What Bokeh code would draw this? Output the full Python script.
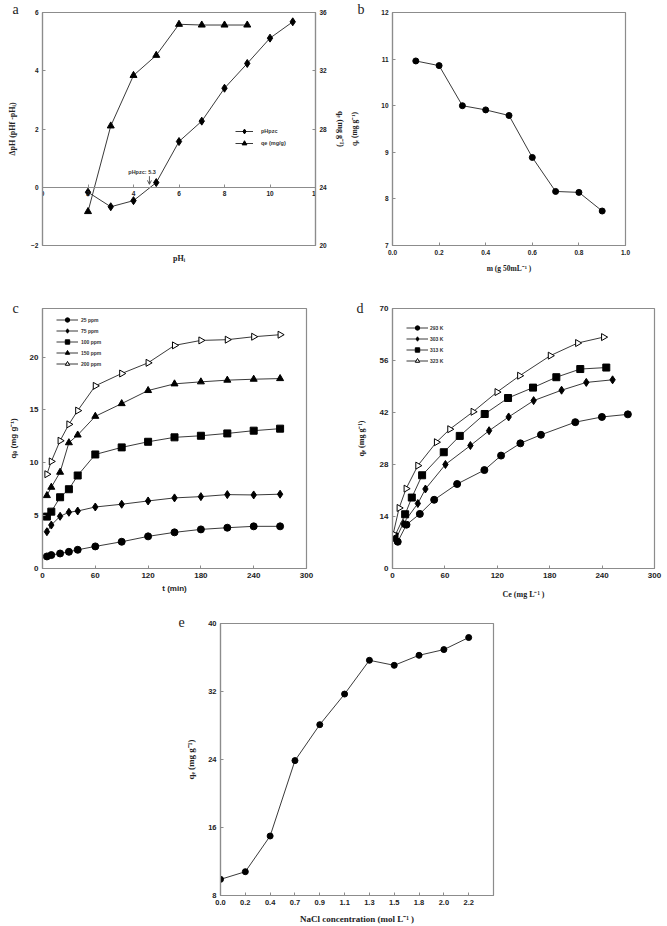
import numpy as np
from bokeh.plotting import figure
from bokeh.models import (Range1d, LinearAxis, FixedTicker, Label, Arrow, OpenHead,
                          Legend, LegendItem, Spacer, NumeralTickFormatter)
from bokeh.layouts import column, row
from bokeh.embed import file_html
from bokeh.resources import INLINE

# ---------------- data ----------------
# (a) pH effect / point of zero charge
ph_i = [2, 3, 4, 5, 6, 7, 8, 9, 10, 11]
delta_ph = [-0.17, -0.67, -0.46, 0.16, 1.57, 2.27, 3.40, 4.25, 5.12, 5.68]
ph_qe_x = [2, 3, 4, 5, 6, 7, 8, 9]
ph_qe = [22.33, 28.21, 31.68, 33.06, 35.19, 35.14, 35.14, 35.14]
a_x_ticks = [0, 2, 4, 6, 8, 10, 12]
a_y_ticks = [-2, 0, 2, 4, 6]
a_right_ticks = [20, 24, 28, 32, 36]

# (b) adsorbent dose
dose = [0.1, 0.2, 0.3, 0.4, 0.5, 0.6, 0.7, 0.8, 0.9]
qe_dose = [10.96, 10.86, 10.0, 9.91, 9.79, 8.89, 8.16, 8.14, 7.74]

# (c) contact time
t_min = [5, 10, 20, 30, 40, 60, 90, 120, 150, 180, 210, 240, 270]
q_25 = [1.14, 1.27, 1.42, 1.58, 1.77, 2.09, 2.53, 3.04, 3.42, 3.70, 3.86, 3.99, 3.99]
q_75 = [3.48, 4.11, 4.94, 5.32, 5.44, 5.82, 6.08, 6.39, 6.68, 6.80, 6.99, 6.96, 7.03]
q_100 = [4.91, 5.38, 6.74, 7.50, 8.80, 10.79, 11.46, 11.99, 12.41, 12.56, 12.78, 13.04, 13.23]
q_150 = [6.90, 7.69, 9.11, 11.90, 12.63, 14.40, 15.60, 16.84, 17.47, 17.66, 17.82, 17.91, 17.97]
q_200 = [8.92, 10.13, 12.09, 13.64, 14.94, 17.28, 18.45, 19.46, 21.11, 21.58, 21.65, 21.93, 22.12]
c_labels = ["25 ppm", "75 ppm", "100 ppm", "150 ppm", "200 ppm"]

# (d) isotherms
ce_293 = [6, 16, 31.3, 47.7, 74, 105.2, 124.3, 146.4, 170, 209.3, 239.8, 269.5]
qe_293 = [7.2, 11.8, 14.7, 18.5, 22.75, 26.5, 30.4, 33.7, 36.0, 39.4, 40.8, 41.5]
ce_303 = [3.4, 12.2, 29, 37.7, 60.6, 89.2, 110.6, 133, 161.6, 193.6, 221.9, 252]
qe_303 = [7.7, 12.1, 17.5, 21.4, 28.0, 33.1, 37.1, 40.8, 45.2, 48.0, 50.1, 50.8]
ce_313 = [2.3, 14.5, 22.1, 33.9, 58.7, 77, 105.6, 132.3, 160.9, 187.6, 215, 244.8]
qe_313 = [8.6, 14.6, 19.1, 25.1, 31.3, 35.7, 41.6, 45.9, 48.7, 51.5, 53.7, 54.1]
ce_323 = [0.8, 7.6, 15.6, 29, 50.3, 65.6, 92.3, 119.7, 145.6, 180.7, 212, 241.7]
qe_323 = [9.3, 16.3, 21.5, 27.7, 34.0, 37.5, 42.2, 47.5, 51.9, 57.3, 60.7, 62.3]
d_labels = ["293 K", "303 K", "313 K", "323 K"]

# (e) ionic strength
nacl = [0.0, 0.22, 0.44, 0.66, 0.88, 1.10, 1.32, 1.54, 1.76, 1.98, 2.20]
qe_nacl = [9.9, 10.8, 15.0, 23.87, 28.1, 31.7, 35.67, 35.08, 36.26, 36.93, 38.35]
e_x_ticks = [0.0, 0.22, 0.44, 0.66, 0.88, 1.10, 1.32, 1.54, 1.76, 1.98, 2.20]
e_x_labels = ["0.0", "0.2", "0.4", "0.7", "0.9", "1.1", "1.3", "1.5", "1.8", "2.0", "2.2"]

# ---------------- style ----------------
SANS = "Liberation Sans"
SERIF = "Liberation Serif"
FRAME = "#8c8c8c"
LINE = "#3a3a3a"


def make_fig(w, h, xr, yr, left, right, top, bottom):
    p = figure(width=w, height=h, x_range=Range1d(*xr), y_range=Range1d(*yr),
               output_backend="svg", toolbar_location=None,
               min_border_left=left, min_border_right=right,
               min_border_top=top, min_border_bottom=bottom)
    p.outline_line_color = FRAME
    p.outline_line_width = 1.2
    p.grid.visible = False
    return p


def style_axes(p, tick_size, label_size, label_font=SERIF):
    for ax in p.axis:
        ax.axis_line_color = FRAME
        ax.axis_line_width = 1.2
        ax.major_tick_line_color = FRAME
        ax.minor_tick_line_color = None
        ax.major_tick_in = 3
        ax.major_tick_out = 0
        ax.major_label_text_font = SANS
        ax.major_label_text_font_style = "bold"
        ax.major_label_text_font_size = tick_size
        ax.major_label_text_color = "#222222"
        ax.major_label_standoff = 4
        ax.axis_label_text_font = label_font
        ax.axis_label_text_font_style = "bold"
        ax.axis_label_text_font_size = label_size
        ax.axis_label_text_color = "#222222"
        ax.axis_label_standoff = 6


def letter(p, txt, offset, standoff):
    p.title.text = txt
    p.title.align = "left"
    p.title.offset = offset
    p.title.standoff = standoff
    p.title.text_font = SERIF
    p.title.text_font_style = "normal"
    p.title.text_font_size = "14px"
    p.title.text_color = "#222222"


def make_legend(items, loc, gw, gh, standoff, size="5px"):
    return Legend(items=items, location=loc, glyph_width=gw, glyph_height=gh,
                  label_height=gh, label_standoff=standoff, spacing=0, padding=0,
                  margin=0, border_line_color=None, background_fill_alpha=0,
                  label_text_font=SANS, label_text_font_style="bold",
                  label_text_font_size=size, label_text_color="#333333")


# ---------------- panel a ----------------
pa = make_fig(347, 280, (0, 12), (-2, 6), 42, 25, 12, 35)
pa.extra_y_ranges = {"qe": Range1d(20, 36)}
pa.xaxis.ticker = FixedTicker(ticks=a_x_ticks)
pa.xaxis.fixed_location = 0
pa.yaxis.ticker = FixedTicker(ticks=a_y_ticks)
pa.yaxis.axis_label = "ΔpH (pHf -pHᵢ)"
right_ax = LinearAxis(y_range_name="qe", ticker=FixedTicker(ticks=a_right_ticks),
                      axis_label="qₑ (mg g⁻¹)")
pa.add_layout(right_ax, "right")
lab_ax = LinearAxis(axis_label="pHᵢ", ticker=FixedTicker(ticks=[]))
pa.add_layout(lab_ax, "below")
style_axes(pa, "6.5px", "8px")
pa.yaxis[0].axis_label_standoff = 11
lab_ax.axis_line_color = None
lab_ax.major_tick_line_color = None
lab_ax.major_label_text_font_size = "0px"
lab_ax.axis_label_standoff = 8

la1 = pa.line(ph_i, delta_ph, line_color=LINE, line_width=1)
sa1 = pa.scatter(ph_i, delta_ph, marker="diamond", size=8, color="black")
la2 = pa.line(ph_qe_x, ph_qe, y_range_name="qe", line_color=LINE, line_width=1)
sa2 = pa.scatter(ph_qe_x, ph_qe, y_range_name="qe", marker="triangle", size=7, color="black")
pa.add_layout(make_legend([LegendItem(label="pHpzc", renderers=[la1, sa1]),
                           LegendItem(label="qe (mg/g)", renderers=[la2, sa2])],
                          (193, 96), 18, 12, 8, "5.5px"))
pa.add_layout(Label(x=3.77, y=0.51, text="pHpzc: 5.3", text_font=SANS, text_font_style="bold",
                    text_font_size="5.5px", text_baseline="middle", text_color="#333333"))
pa.add_layout(Arrow(end=OpenHead(size=4, line_color="#333333", line_width=0.8),
                    x_start=4.7, y_start=0.38, x_end=4.7, y_end=0.1,
                    line_color="#333333", line_width=0.8))
letter(pa, "a", -30, -8)

# ---------------- panel b ----------------
pb = make_fig(320, 280, (0, 1.0), (7, 12), 45, 42, 12, 34)
pb.xaxis.ticker = FixedTicker(ticks=[0, 0.2, 0.4, 0.6, 0.8, 1.0])
pb.xaxis.formatter = NumeralTickFormatter(format="0.0")
pb.yaxis.ticker = FixedTicker(ticks=[7, 8, 9, 10, 11, 12])
pb.xaxis.axis_label = "m (g 50mL⁻¹ )"
pb.yaxis.axis_label = "qₑ (mg g⁻¹)"
style_axes(pb, "6.5px", "7.5px")
pb.yaxis[0].axis_label_standoff = 19
pb.line(dose, qe_dose, line_color=LINE, line_width=1)
pb.scatter(dose, qe_dose, marker="circle", size=6, color="black")
letter(pb, "b", -35, -8)

# ---------------- panel c ----------------
pc = make_fig(347, 330, (0, 300), (0, 24.6), 42, 41, 28, 42)
pc.xaxis.ticker = FixedTicker(ticks=[0, 60, 120, 180, 240, 300])
pc.yaxis.ticker = FixedTicker(ticks=[0, 5, 10, 15, 20])
pc.xaxis.axis_label = "t (min)"
pc.yaxis.axis_label = "qₑ (mg g⁻¹)"
style_axes(pc, "8px", "8px", SANS)
pc.yaxis[0].axis_label_standoff = 9
pc.xaxis[0].axis_label_standoff = 3
c_series = [(q_25, "circle", 7, "black"), (q_75, "diamond", 8, "black"),
            (q_100, "square", 7, "black"), (q_150, "triangle", 7, "black"),
            (q_200, "triangle", 7, "white")]
c_items = []
for (ys, mk, sz, fc), lbl in zip(c_series, c_labels):
    ln = pc.line(t_min, ys, line_color=LINE, line_width=1)
    ang = -np.pi / 2 if fc == "white" else 0
    sc = pc.scatter(t_min, ys, marker=mk, size=sz, fill_color=fc, line_color="black",
                    angle=ang)
    c_items.append(LegendItem(label=lbl, renderers=[ln, sc]))
pc.add_layout(make_legend(c_items, (14, 199), 22, 11, 3))
letter(pc, "c", -30, -15)

# ---------------- panel d ----------------
pd_ = make_fig(320, 330, (0, 300), (0, 70), 45, 13, 28, 36)
pd_.xaxis.ticker = FixedTicker(ticks=[0, 60, 120, 180, 240, 300])
pd_.yaxis.ticker = FixedTicker(ticks=[0, 14, 28, 42, 56, 70])
pd_.xaxis.axis_label = "Ce (mg L⁻¹ )"
pd_.yaxis.axis_label = "qₑ (mg g⁻¹)"
style_axes(pd_, "8px", "8px")
pd_.yaxis[0].axis_label_standoff = 11
pd_.xaxis[0].axis_label_standoff = 9
d_series = [(ce_293, qe_293, "circle", 7, "black"), (ce_303, qe_303, "diamond", 8, "black"),
            (ce_313, qe_313, "square", 7, "black"), (ce_323, qe_323, "triangle", 7, "white")]
d_items = []
for (xs, ys, mk, sz, fc), lbl in zip(d_series, d_labels):
    ln = pd_.line(xs, ys, line_color=LINE, line_width=1)
    ang = -np.pi / 2 if fc == "white" else 0
    sc = pd_.scatter(xs, ys, marker=mk, size=sz, fill_color=fc, line_color="black", angle=ang)
    d_items.append(LegendItem(label=lbl, renderers=[ln, sc]))
pd_.add_layout(make_legend(d_items, (14, 202), 22, 11, 2))
letter(pd_, "d", -36, -15)

# ---------------- panel e ----------------
pe = make_fig(347, 316, (0, 2.42), (8, 40), 47, 27, 13, 31)
pe.xaxis.ticker = FixedTicker(ticks=e_x_ticks)
pe.xaxis.major_label_overrides = {k: v for k, v in zip(e_x_ticks, e_x_labels)}
pe.yaxis.ticker = FixedTicker(ticks=[8, 16, 24, 32, 40])
pe.xaxis.axis_label = "NaCl concentration (mol L⁻¹ )"
pe.yaxis.axis_label = "qₑ (mg g⁻¹)"
style_axes(pe, "7.5px", "9px")
pe.yaxis[0].axis_label_standoff = 9
pe.line(nacl, qe_nacl, line_color=LINE, line_width=1)
pe.scatter(nacl, qe_nacl, marker="circle", size=6, color="black")
letter(pe, "e", -42, -6)

layout = column(row(pa, pb), row(pc, pd_), row(Spacer(width=173, height=316), pe))
open("out.html", "w").write(file_html(layout, INLINE))
